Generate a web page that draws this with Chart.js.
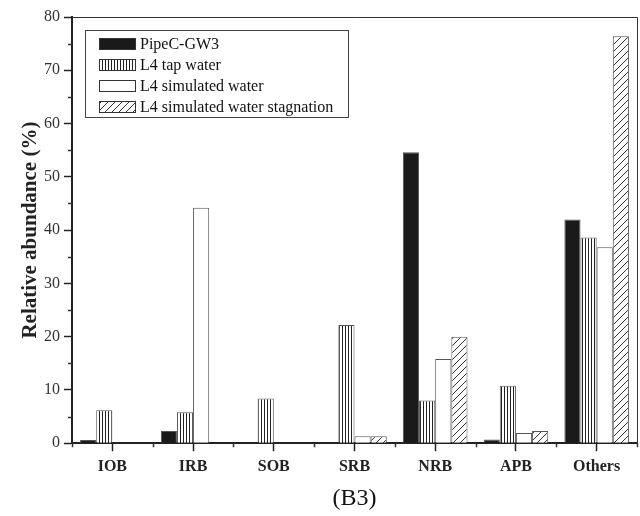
<!DOCTYPE html>
<html>
<head>
<meta charset="utf-8">
<script src="https://cdn.jsdelivr.net/npm/chart.js@4.4.1/dist/chart.umd.min.js"></script>
<style>
  html, body { margin: 0; padding: 0; background: #fff; }
  #wrap { width: 640px; height: 516px; }
</style>
</head>
<body>
<div id="wrap"><canvas id="chart" width="640" height="516"></canvas></div>
<script>
const categories = ['IOB', 'IRB', 'SOB', 'SRB', 'NRB', 'APB', 'Others'];
const seriesNames = ['PipeC-GW3', 'L4 tap water', 'L4 simulated water', 'L4 simulated water stagnation'];
const pipeC = [0.6, 2.3, 0, 0.1, 54.6, 0.7, 42.0];
const tapWater = [6.2, 5.8, 8.4, 22.2, 8.0, 10.8, 38.6];
const simWater = [0, 44.2, 0, 1.3, 15.8, 1.9, 36.8];
const simStagnation = [0, 0, 0, 1.3, 20.0, 2.3, 76.4];
const yTicks = [0, 10, 20, 30, 40, 50, 60, 70, 80];

const SERIF = "'Liberation Serif', 'DejaVu Serif', serif";

// hatch patterns
function stripePattern() {
  const c = document.createElement('canvas');
  c.width = 3; c.height = 3;
  const g = c.getContext('2d');
  g.fillStyle = '#fff'; g.fillRect(0, 0, 3, 3);
  g.fillStyle = '#222'; g.fillRect(0, 0, 1, 3);
  return g.createPattern(c, 'repeat');
}
function diagPattern() {
  const s = 7;
  const c = document.createElement('canvas');
  c.width = s; c.height = s;
  const g = c.getContext('2d');
  g.fillStyle = '#fff'; g.fillRect(0, 0, s, s);
  g.strokeStyle = '#333'; g.lineWidth = 1;
  g.beginPath();
  g.moveTo(0, s); g.lineTo(s, 0);
  g.moveTo(-1, 1); g.lineTo(1, -1);
  g.moveTo(s - 1, s + 1); g.lineTo(s + 1, s - 1);
  g.stroke();
  return g.createPattern(c, 'repeat');
}

const fills = ['#1a1a1a', stripePattern(), '#ffffff', diagPattern()];
const seriesData = [pipeC, tapWater, simWater, simStagnation];

// frame, minor ticks and boxed legend
const extras = {
  id: 'extras',
  afterDraw(chart) {
    const ctx = chart.ctx;
    const a = chart.chartArea;
    const y = chart.scales.y;
    ctx.save();
    ctx.strokeStyle = '#333';
    ctx.lineWidth = 1;
    ctx.beginPath();
    ctx.moveTo(a.left, a.top + 0.5); ctx.lineTo(a.right + 0.5, a.top + 0.5);
    ctx.lineTo(a.right + 0.5, a.bottom);
    ctx.stroke();
    // minor ticks
    ctx.lineWidth = 1.5;
    ctx.beginPath();
    for (let v = 5; v < 80; v += 10) {
      const py = Math.round(y.getPixelForValue(v)) + 0.5;
      ctx.moveTo(a.left - 4, py); ctx.lineTo(a.left, py);
    }
    for (let i = 0; i <= categories.length; i++) {
      const px = Math.round(a.left + (a.right - a.left) * i / categories.length) + 0.5;
      ctx.moveTo(px, a.bottom); ctx.lineTo(px, a.bottom + 4);
    }
    ctx.stroke();
    // legend
    const lx = 85, ly = 30, lw = 263, lh = 87;
    ctx.lineWidth = 1;
    ctx.strokeStyle = '#444';
    ctx.strokeRect(lx + 0.5, ly + 0.5, lw, lh);
    ctx.font = '16px ' + SERIF;
    ctx.textBaseline = 'middle';
    seriesNames.forEach((name, i) => {
      const cy = 44 + i * 21;
      ctx.fillStyle = fills[i];
      ctx.fillRect(99, cy - 5.5, 36, 11);
      ctx.strokeStyle = '#333';
      ctx.strokeRect(99.5, cy - 5.5, 36, 11);
      ctx.fillStyle = '#111';
      ctx.fillText(name, 140, cy + 1);
    });
    ctx.restore();
  }
};

new Chart(document.getElementById('chart'), {
  type: 'bar',
  data: {
    labels: categories,
    datasets: seriesData.map((d, i) => ({
      label: seriesNames[i],
      data: d,
      backgroundColor: fills[i],
      borderColor: '#555',
      borderWidth: 1,
      borderSkipped: 'bottom',
      categoryPercentage: 0.8,
      barPercentage: 1.0
    }))
  },
  options: {
    responsive: false,
    animation: false,
    layout: { padding: { top: 17, right: 3, left: 0, bottom: 0 } },
    plugins: {
      legend: { display: false },
      tooltip: { enabled: false },
      title: {
        display: true,
        position: 'bottom',
        fullSize: false,
        text: '(B3)',
        color: '#111',
        font: { family: SERIF, size: 24, weight: 'normal' },
        padding: { top: 0, bottom: 3 }
      }
    },
    scales: {
      x: {
        grid: { display: true, drawOnChartArea: false, offset: false, tickLength: 8, tickColor: '#222', tickWidth: 1.5 },
        border: { color: '#222', width: 2 },
        ticks: { color: '#222', font: { family: SERIF, size: 16, weight: 'bold' }, padding: 6 },
        afterFit(s) { s.height = 41; }
      },
      y: {
        min: 0,
        max: 80,
        afterBuildTicks(s) { s.ticks = yTicks.map(v => ({ value: v })); },
        grid: { display: true, drawOnChartArea: false, tickLength: 8, tickColor: '#222', tickWidth: 1.5 },
        border: { color: '#222', width: 2 },
        ticks: { color: '#333', font: { family: SERIF, size: 16 }, padding: 4 },
        title: {
          display: true,
          text: 'Relative abundance (%)',
          color: '#222',
          font: { family: SERIF, size: 21, weight: 'bold' },
          padding: { top: 18, bottom: 4 }
        },
        afterFit(s) { s.width = 72; }
      }
    }
  },
  plugins: [extras]
});
</script>
</body>
</html>
